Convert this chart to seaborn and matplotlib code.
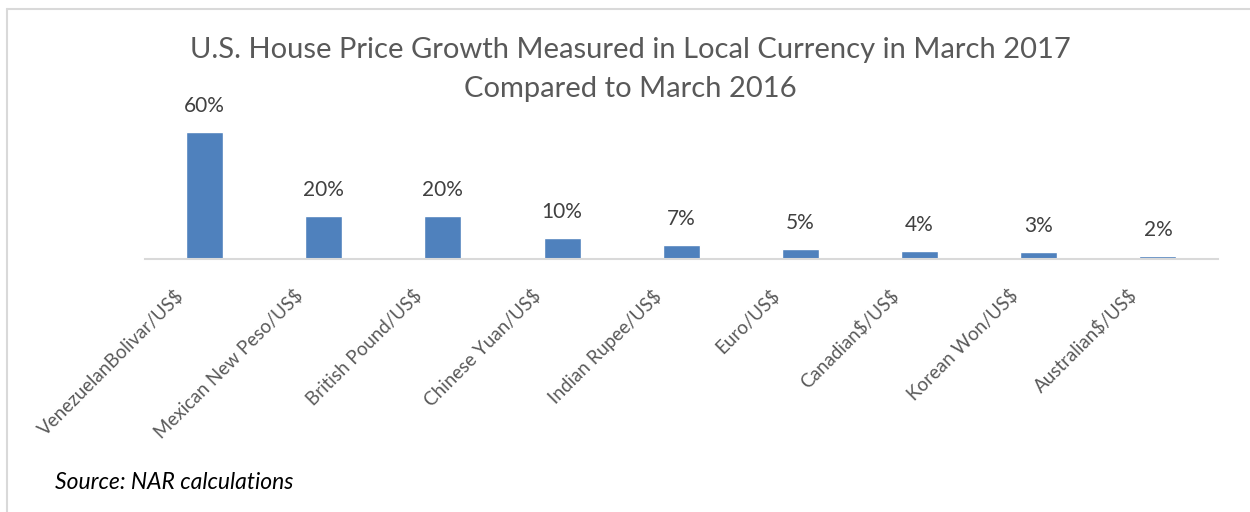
import matplotlib
matplotlib.use("Agg")
import matplotlib.pyplot as plt
import matplotlib.transforms as mtransforms
import seaborn as sns
import pandas as pd
from matplotlib.lines import Line2D

currencies = ["VenezuelanBolivar/US$", "Mexican New Peso/US$", "British Pound/US$",
              "Chinese Yuan/US$", "Indian Rupee/US$", "Euro/US$", "Canadian$/US$",
              "Korean Won/US$", "Australian$/US$"]
growth = [60, 20.2, 20.2, 9.8, 6.6, 4.6, 3.9, 3.3, 1.5]
value_labels = ["60%", "20%", "20%", "10%", "7%", "5%", "4%", "3%", "2%"]

df = pd.DataFrame({"currency": currencies, "growth": growth})

sns.set_theme(style="white")
plt.rcParams["font.family"] = ["Lato", "DejaVu Sans"]
plt.rcParams["text.parse_math"] = False  # keep the $ signs literal

fig = plt.figure(figsize=(12.5, 5.12), dpi=100)
ax = fig.add_axes([0.116, 0.494, 0.858, 0.29])

sns.barplot(data=df, x="currency", y="growth", color="#4f81bd", saturation=1,
            width=0.31, ax=ax)
ax.set_ylim(0, 70)
ax.set_xlim(-0.5, len(currencies) - 0.5)

for i, (v, lab) in enumerate(zip(growth, value_labels)):
    ax.annotate(lab, (i, v), xytext=(0, 26), textcoords="offset pixels",
                ha="center", va="center", fontsize=15, color="#404040")

for s in ["top", "right", "left"]:
    ax.spines[s].set_visible(False)
ax.spines["bottom"].set_color("#d9d9d9")
ax.spines["bottom"].set_linewidth(1.5)
ax.set_yticks([])
ax.set_xlabel("")
ax.set_ylabel("")
ax.tick_params(axis="x", length=0, pad=8)
ax.set_xticks(range(len(currencies)))
ax.set_xticklabels(currencies, rotation=45, ha="right", rotation_mode="anchor",
                   fontsize=13.5, color="#595959")
shift = mtransforms.ScaledTranslation(-30 / 100, -16 / 100, fig.dpi_scale_trans)
for lab in ax.get_xticklabels():
    lab.set_transform(lab.get_transform() + shift)

fig.text(0.504, 0.902, "U.S. House Price Growth Measured in Local Currency in March 2017",
         ha="center", va="center", fontsize=21, color="#595959")
fig.text(0.504, 0.826, "Compared to March 2016",
         ha="center", va="center", fontsize=21, color="#595959")
fig.text(0.044, 0.057, "Source: NAR calculations", ha="left", va="center",
         fontsize=16.5, style="italic", color="black")

# chart border
fig.add_artist(Line2D([0.0056, 0.0056], [0, 0.982], color="#d9d9d9", lw=1.5,
                      transform=fig.transFigure))
fig.add_artist(Line2D([0.0056, 1], [0.982, 0.982], color="#d9d9d9", lw=1.5,
                      transform=fig.transFigure))

fig.savefig("out.png", dpi=100)
